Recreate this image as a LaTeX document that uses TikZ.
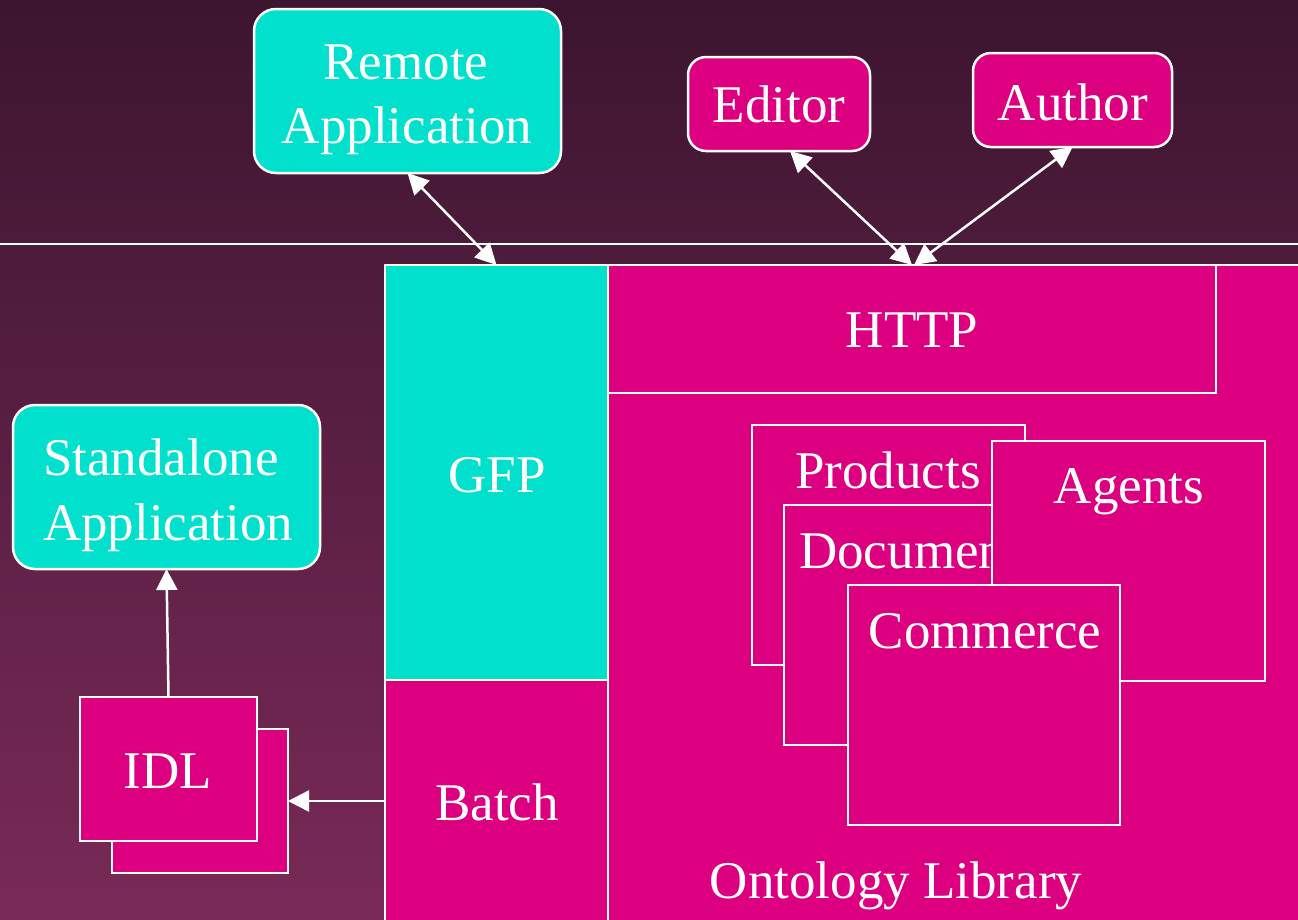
\documentclass[tikz,border=0pt]{standalone}
\usepackage{fontspec}
\setmainfont{Liberation Serif}
\usetikzlibrary{arrows.meta}
\definecolor{cyanbox}{RGB}{0,224,204}
\definecolor{magbox}{RGB}{220,0,128}
\definecolor{bgtop}{RGB}{60,21,48}
\definecolor{bgbot}{RGB}{122,42,88}
\begin{document}
\begin{tikzpicture}[x=1pt,y=-1pt,
  lbl/.style={text=white,font=\fontsize{53}{64}\selectfont,inner sep=0pt,anchor=base},
  boxbase/.style={draw=white,line width=2.5pt,inner sep=0pt,outer sep=0pt},
  cround/.style={boxbase,fill=cyanbox,rounded corners=22pt},
  mround/.style={boxbase,fill=magbox,rounded corners=18pt},
  cbox/.style={boxbase,fill=cyanbox},
  mbox/.style={boxbase,fill=magbox},
  conn/.style={draw=white,line width=2.5pt},
  tip/.style={Triangle[length=21pt,width=21pt]}
]
\useasboundingbox (0,0) rectangle (1298,919);
\clip (0,0) rectangle (1298,919);
\shade[top color=bgtop,bottom color=bgbot] (0,0) rectangle (1298,919);
\draw[white,line width=1.3pt] (0,244) -- (1298,244);

% top boxes
\node[cround,minimum width=307pt,minimum height=164pt] (remote) at (407.5,91) {};
\node[lbl] (remoteA) at (406,79) {Remote};
\node[lbl] (remoteB) at (407,143) {Application};
\node[mround,minimum width=182pt,minimum height=94pt] (editor) at (779,104) {};
\node[lbl] (editorL) at (779,122) {Editor};
\node[mround,minimum width=199pt,minimum height=94pt] (author) at (1072.5,100) {};
\node[lbl] (authorL) at (1073,120) {Author};

% standalone
\node[cround,minimum width=307pt,minimum height=164pt] (standalone) at (166.5,487) {};
\node[lbl,anchor=base west] (standA) at (43,475) {Standalone};
\node[lbl,anchor=base west] (standB) at (43,540) {Application};

% main blocks
\node[mbox,minimum width=702pt,minimum height=665pt] (ontology) at (959,597.5) {};
\node[lbl] (ontologyL) at (896,898) {Ontology Library};
\node[mbox,minimum width=608pt,minimum height=128pt] (http) at (912,329) {};
\node[lbl] (httpL) at (912,347) {HTTP};
\node[cbox,minimum width=223pt,minimum height=415pt] (gfp) at (496.5,472.5) {};
\node[lbl] (gfpL) at (497,492) {GFP};
\node[mbox,minimum width=223pt,minimum height=242pt] (batch) at (496.5,801) {};
\node[lbl] (batchL) at (497,820) {Batch};

% libraries
\node[mbox,minimum width=273pt,minimum height=240pt] (products) at (888.5,545) {};
\node[lbl] (productsL) at (888,488) {Products};
\node[mbox,minimum width=273pt,minimum height=240pt] (documents) at (920.5,625) {};
\node[lbl,anchor=base west] (documentsL) at (799,568) {Documents};
\node[mbox,minimum width=273pt,minimum height=240pt] (agents) at (1128.5,561) {};
\node[lbl] (agentsL) at (1129,503) {Agents};
\node[mbox,minimum width=272pt,minimum height=240pt] (commerce) at (984,705) {};
\node[lbl] (commerceL) at (985,648) {Commerce};

% IDL
\node[mbox,minimum width=176pt,minimum height=144pt] (idlback) at (200,801) {};
\node[mbox,minimum width=177pt,minimum height=144pt] (idl) at (168.5,769) {};
\node[lbl] (idlL) at (168,788) {IDL};

% connectors
\draw[conn,{Triangle[length=21pt,width=21pt]}-{Triangle[length=21pt,width=21pt]}] (remote.south) -- (gfp.north);
\draw[conn,{Triangle[length=21pt,width=21pt]}-{Triangle[length=21pt,width=21pt]}] ([xshift=11pt]editor.south) -- (http.north);
\draw[conn,{Triangle[length=21pt,width=21pt]}-{Triangle[length=21pt,width=21pt]}] (author.south) -- ([xshift=2pt]http.north);
\draw[conn,-{Triangle[length=21pt,width=21pt]}] (idl.north) -- (standalone.south);
\draw[conn,-{Triangle[length=21pt,width=21pt]}] (batch.west) -- (idlback.east);
\end{tikzpicture}
\end{document}
